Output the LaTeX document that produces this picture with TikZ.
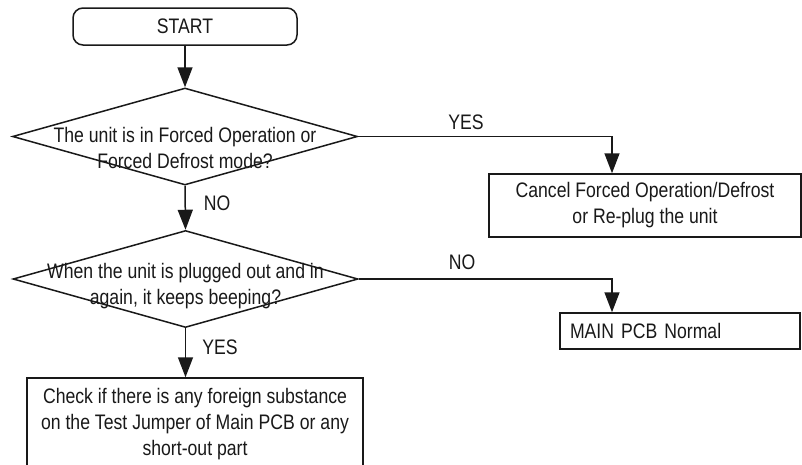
\documentclass[tikz,border=0pt]{standalone}
\usepackage{fontspec}
\setmainfont[FakeStretch=0.84]{Liberation Sans}
\usetikzlibrary{shapes.geometric,arrows.meta}
\begin{document}
\begin{tikzpicture}[x=1pt,y=-1pt,
  every node/.style={font=\fontsize{21}{26}\selectfont, text=black!90},
  line/.style={line width=1.5pt, draw=black!90},
  arr/.style={line, -{Triangle[length=20pt,width=15pt]}},
  termbox/.style={line, rounded corners=10pt, minimum width=224pt, minimum height=37pt, inner sep=0pt},
  procbox/.style={line, inner sep=0pt, align=center},
  decision/.style={line, diamond, inner sep=0pt, minimum width=345pt, minimum height=97pt},
  dtext/.style={align=center, inner sep=0pt},
  lab/.style={inner sep=0pt}]
\useasboundingbox (0,0) rectangle (802,464);
\fill[white] (0,0) rectangle (802,464);

\node[termbox] (start) at (185,26.5) {START};

\node[decision] (d1) at (185,136.5) {};
\node[dtext] (t1) at (185,148) {The unit is in Forced Operation or\\Forced Defrost mode?};

\node[decision] (d2) at (185.5,279) {};
\node[dtext] (t2) at (185.5,286) {When the unit is plugged out and in\\again, it keeps beeping?};

\node[procbox, minimum width=312pt, minimum height=63pt] (b1) at (645,205.5)
  {Cancel Forced Operation/Defrost\\or Re-plug the unit};
\node[procbox, text width=220pt, align=left, inner xsep=10pt, inner ysep=0pt, minimum height=36pt] (b2) at (680,331)
  {MAIN PCB Normal};
\node[procbox, minimum width=336pt, minimum height=92pt] (b3) at (195,424)
  {Check if there is any foreign substance\\on the Test Jumper of Main PCB or any\\short-out part};

\coordinate (c1) at (612,136.5);
\coordinate (c2) at (612,279);

\draw[arr] (start.south) -- (d1.north);
\draw[arr] (d1.south) -- (d2.north);
\draw[arr] (d2.south) -- (d2.south |- b3.north);
\draw[arr] (d1.east) -- (c1) -- (c1 |- b1.north);
\draw[arr] (d2.east) -- (c2) -- (c2 |- b2.north);

\node[lab] (yes1) at (466,122) {YES};
\node[lab] (no1) at (217,203) {NO};
\node[lab] (no2) at (462,262) {NO};
\node[lab] (yes2) at (220,347) {YES};
\end{tikzpicture}
\end{document}
